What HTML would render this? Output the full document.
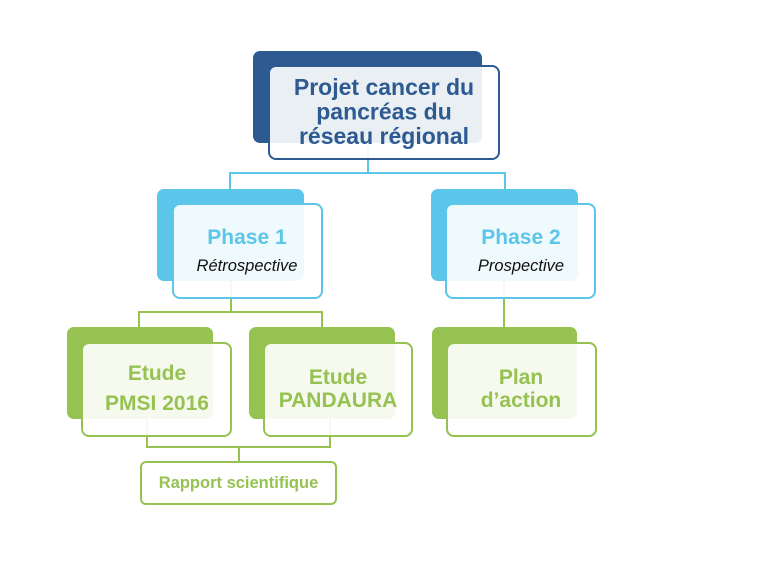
<!DOCTYPE html>
<html><head><meta charset="utf-8"><style>
html,body{margin:0;padding:0;background:#fff;}
svg{display:block;}
text{font-family:"Liberation Sans",Arial,sans-serif;font-weight:bold;text-anchor:middle;}
text.it{font-weight:normal;font-style:italic;}
</style></head><body>
<svg width="768" height="576" viewBox="0 0 768 576" xmlns="http://www.w3.org/2000/svg">
<!-- connectors -->
<g fill="none" stroke-width="2">
  <path d="M368 143 V173 M230 173 H505 M230 172 V190 M505 172 V190" stroke="#5bc5ea"/>
  <path d="M231 281 V312 M139 312 H322 M139 311 V328 M322 311 V328" stroke="#95c250"/>
  <path d="M504 281 V328" stroke="#95c250"/>
  <path d="M147 419 V447 M330 419 V447 M146 447 H331 M239 447 V462" stroke="#95c250"/>
</g>

<!-- top box -->
<rect x="253" y="51" width="229" height="92" rx="7" fill="#2c5a91"/>
<rect x="269" y="66" width="230" height="93" rx="7" fill="#ffffff" fill-opacity="0.9" stroke="#2c5a91" stroke-width="2"/>
<g fill="#2c5a91" font-size="23">
  <text x="384" y="95">Projet cancer du</text>
  <text x="384" y="119.5">pancréas du</text>
  <text x="384" y="144">réseau régional</text>
</g>

<!-- phase 1 -->
<rect x="157" y="189" width="147" height="92" rx="7" fill="#5bc5ea"/>
<rect x="173" y="204" width="149" height="94" rx="7" fill="#ffffff" fill-opacity="0.9" stroke="#5bc5ea" stroke-width="2"/>
<text x="247" y="244" font-size="21" fill="#5bc5ea">Phase 1</text>
<text class="it" x="247" y="271" font-size="16.5" fill="#111">Rétrospective</text>

<!-- phase 2 -->
<rect x="431" y="189" width="147" height="92" rx="7" fill="#5bc5ea"/>
<rect x="446" y="204" width="149" height="94" rx="7" fill="#ffffff" fill-opacity="0.9" stroke="#5bc5ea" stroke-width="2"/>
<text x="521" y="244" font-size="21" fill="#5bc5ea">Phase 2</text>
<text class="it" x="521" y="271" font-size="16.5" fill="#111">Prospective</text>

<!-- PMSI -->
<rect x="67" y="327" width="146" height="92" rx="7" fill="#95c250"/>
<rect x="82" y="343" width="149" height="93" rx="7" fill="#ffffff" fill-opacity="0.9" stroke="#95c250" stroke-width="2"/>
<g fill="#95c250" font-size="21">
  <text x="157" y="380">Etude</text>
  <text x="157" y="410">PMSI 2016</text>
</g>

<!-- PANDAURA -->
<rect x="249" y="327" width="146" height="92" rx="7" fill="#95c250"/>
<rect x="264" y="343" width="148" height="93" rx="7" fill="#ffffff" fill-opacity="0.9" stroke="#95c250" stroke-width="2"/>
<g fill="#95c250" font-size="21">
  <text x="338" y="384">Etude</text>
  <text x="338" y="407">PANDAURA</text>
</g>

<!-- Plan d'action -->
<rect x="432" y="327" width="145" height="92" rx="7" fill="#95c250"/>
<rect x="447" y="343" width="149" height="93" rx="7" fill="#ffffff" fill-opacity="0.9" stroke="#95c250" stroke-width="2"/>
<g fill="#95c250" font-size="21">
  <text x="521" y="384">Plan</text>
  <text x="521" y="407">d’action</text>
</g>

<!-- Rapport -->
<rect x="141" y="462" width="195" height="42" rx="5" fill="#ffffff" stroke="#95c250" stroke-width="2"/>
<text x="238.5" y="488" font-size="16.5" fill="#95c250">Rapport scientifique</text>
</svg>
</body></html>
